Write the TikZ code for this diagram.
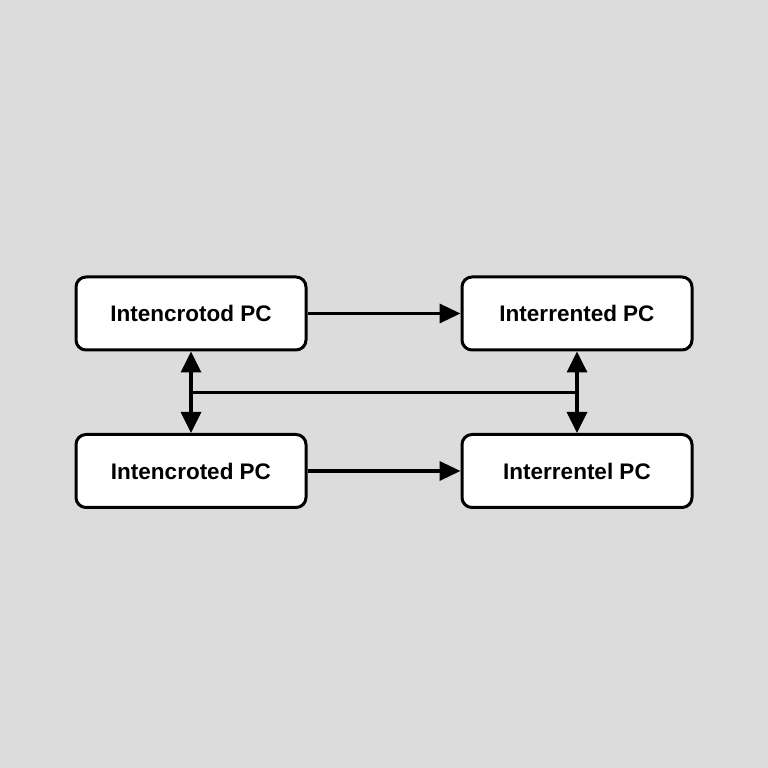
\documentclass[tikz,border=0pt]{standalone}
\usepackage{fontspec}
\setmainfont{Liberation Sans}
\usetikzlibrary{arrows.meta}
\definecolor{bggray}{RGB}{220,220,220}
\tikzset{
  pcbox/.style={draw, line width=3pt, fill=white, rounded corners=10pt,
    minimum width=230pt, minimum height=73pt, font=\fontsize{22.5}{26}\selectfont\bfseries},
  link/.style={line width=3.5pt, -{Triangle[length=21pt,width=19pt]}},
  dlink/.style={line width=3.5pt, {Triangle[length=21pt,width=20pt]}-{Triangle[length=21pt,width=20pt]}}
}
\begin{document}
\begin{tikzpicture}[x=1pt,y=1pt]
        % Fondo
        \fill[bggray] (0,0) rectangle (768,768);
        \useasboundingbox (0,0) rectangle (768,768);

        % Cajas
        \node[pcbox] (tl) at (191,454.5) {Intencrotod PC};
        \node[pcbox] (tr) at (577,454.5) {Interrented PC};
        \node[pcbox] (bl) at (191,297) {Intencroted PC};
        \node[pcbox] (br) at (577,297) {Interrentel PC};

        % Flechas horizontales
        \draw[link] (tl.east) -- (tr.west);
        \draw[link] (bl.east) -- (br.west);

        % Flechas verticales
        \draw[dlink] (tl.south) -- (bl.north) coordinate[midway] (lmid);
        \draw[dlink] (tr.south) -- (br.north) coordinate[midway] (rmid);

        % Enlace central
        \draw[line width=3pt] (lmid) -- (rmid);
\end{tikzpicture}
\end{document}
